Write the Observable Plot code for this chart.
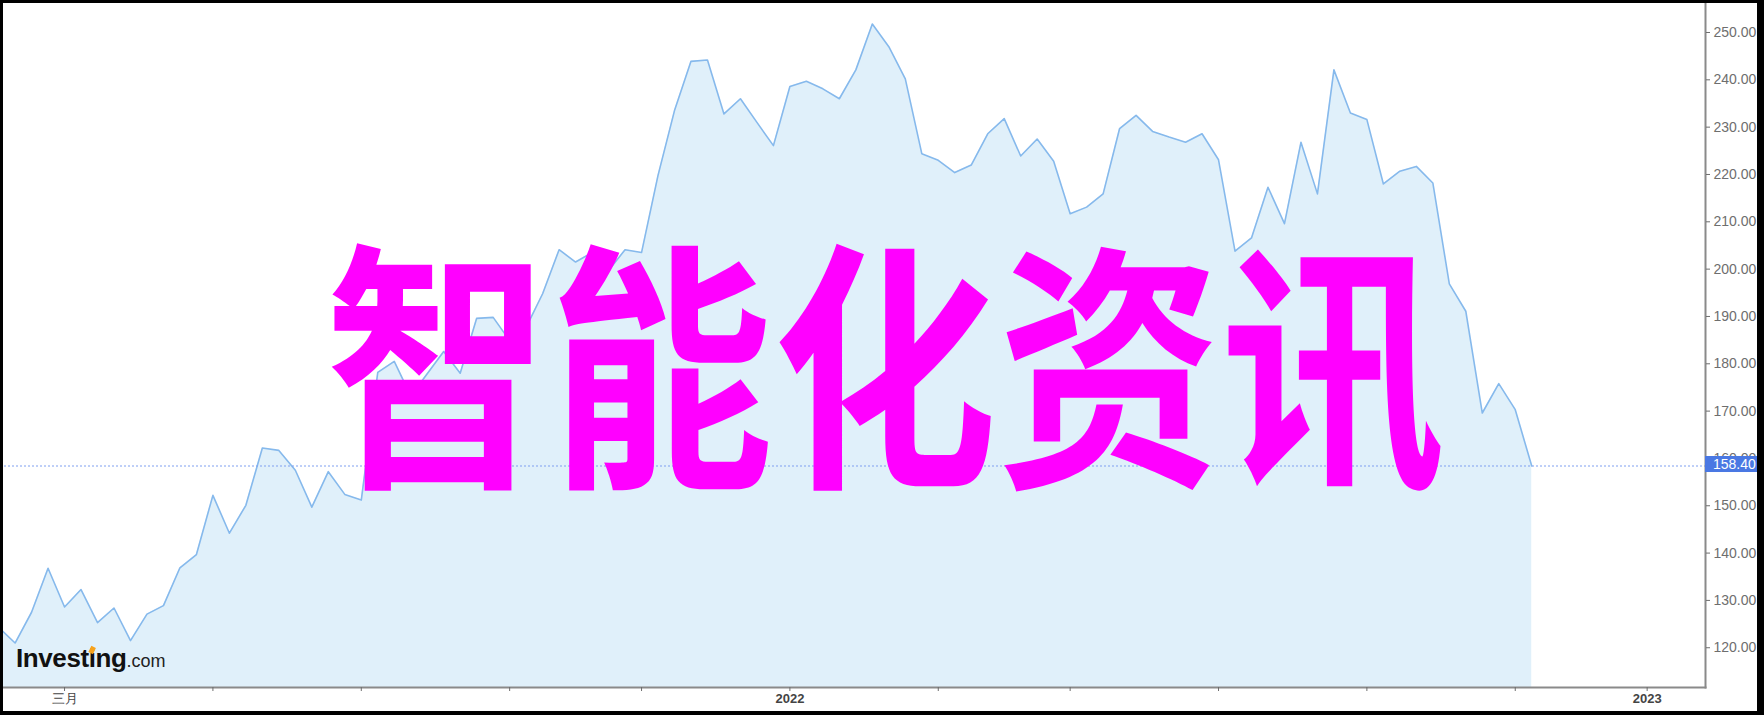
<!DOCTYPE html>
<html><head><meta charset="utf-8">
<script src="https://cdn.jsdelivr.net/npm/d3@7"></script>
<script src="https://cdn.jsdelivr.net/npm/@observablehq/plot@0.6"></script>
<style>
html,body{margin:0;padding:0;background:#fff;}
#wrap{position:relative;width:1764px;height:715px;overflow:hidden;background:#fff;}
#wrap svg{position:absolute;left:0;top:0;}
#border{position:absolute;left:0;top:0;width:1764px;height:715px;box-sizing:border-box;border-style:solid;border-color:#000;border-width:3px 7px 4px 3px;pointer-events:none;}
</style></head><body><div id="wrap"></div>
<script>
// ---- data (weekly closes, Mondays starting 2021-02-01) ----
const firstWeek = "2021-02-01";
const closes = [
  124.3, 121.0, 127.5, 136.8, 128.6, 132.3, 125.3, 128.4, 121.5, 127.1,
  128.9, 136.9, 139.7, 152.2, 144.2, 150.1, 162.2, 161.7, 157.5, 149.7,
  157.2, 152.4, 151.2, 178.2, 180.5, 173.2, 177.9, 182.6, 178.0, 189.6,
  189.8, 184.9, 187.7, 194.8, 204.1, 201.5, 203.5, 199.7, 204.1, 203.5,
  219.8, 233.5, 243.9, 244.2, 232.8, 236.0, 231.0, 226.1, 238.6, 239.7,
  238.1, 236.0, 242.1, 251.8, 247.0, 240.2, 224.4, 223.0, 220.4, 222.0,
  228.6, 231.8, 223.9, 227.5, 222.8, 211.7, 213.1, 215.9, 229.7, 232.5,
  229.1, 227.9, 226.8, 228.6, 223.1, 203.8, 206.6, 217.3, 209.6, 226.8,
  215.9, 242.1, 233.0, 231.6, 218.0, 220.7, 221.7, 218.2, 196.9, 191.1,
  169.6, 175.8, 170.3, 158.4
];
const lastPrice = 158.40;
const yTicks = [120, 130, 140, 150, 160, 170, 180, 190, 200, 210, 220, 230, 240, 250];
const xTickDates = ["2021-03-01","2021-05-03","2021-07-05","2021-09-06","2021-11-01","2022-01-03",
                    "2022-03-07","2022-05-02","2022-07-04","2022-09-05","2022-11-07","2023-01-02"];
const xTickLabels = ["三月","","","","","2022","","","","","","2023"];
const watermark = "智能化资讯";
const brandName = "Investing";
const brandSuffix = ".com";

// ---- build table ----
const start = new Date(firstWeek + "T00:00:00Z");
const rows = closes.map((v, i) => ({date: d3.utcWeek.offset(start, i), close: v}));
const ticks = xTickDates.map((d, i) => ({date: new Date(d + "T00:00:00Z"), label: xTickLabels[i]}));
const week = 7 * 864e5;
const xDomain = [new Date(+start + 0.115 * week), new Date(+start + 103.54 * week)];
const yDomain = [111.6, 256.76];

const chart = Plot.plot({
  width: 1764, height: 715,
  marginLeft: 0, marginRight: 59, marginTop: 0, marginBottom: 28,
  style: {fontFamily: "'Liberation Sans', Arial, sans-serif", fontSize: "14px", background: "transparent", overflow: "visible"},
  x: {type: "utc", domain: xDomain},
  y: {domain: yDomain},
  marks: [
    Plot.areaY(rows, {x: "date", y1: yDomain[0], y2: "close", fill: "#e0f0fa", clip: true}),
    Plot.lineY(rows, {x: "date", y: "close", stroke: "#86b9ec", strokeWidth: 1.6, clip: true}),
    Plot.ruleY([lastPrice], {stroke: "#7f9ff0", strokeWidth: 1, strokeDasharray: "2,2"}),
    Plot.frame({anchor: "right", stroke: "#8a8a8a", strokeWidth: 2}),
    Plot.frame({anchor: "bottom", stroke: "#8a8a8a", strokeWidth: 2}),
    Plot.axisY({anchor: "right", ticks: yTicks, tickFormat: d => d.toFixed(2), tickSize: 4, tickPadding: 4, color: "#6e6e6e", label: null, fontSize: 14}),
    Plot.axisX({ticks: ticks.map(d => d.date), tickFormat: () => "", tickSize: 4, color: "#6e6e6e", label: null}),
    Plot.text(ticks.filter(d => d.label && !/^\d+$/.test(d.label)), {x: "date", text: "label", frameAnchor: "bottom", dy: 15, fill: "#444", fontSize: 13}),
    Plot.text(ticks.filter(d => /^\d+$/.test(d.label)), {x: "date", text: "label", frameAnchor: "bottom", dy: 15, fill: "#444", fontSize: 13, fontWeight: "bold"})
  ]
});
const wrap = document.getElementById("wrap");
wrap.appendChild(chart);
const border = document.createElement("div");
border.id = "border";
wrap.appendChild(border);

const svg = d3.select(chart);
const yS = chart.scale("y");
const xR = chart.scale("x").range;
const py = yS.apply(lastPrice);

// last price label
const lab = svg.append("g");
lab.append("rect").attr("x", xR[1]).attr("y", py - 9.5).attr("width", 60).attr("height", 16).attr("fill", "#4a78e3");
lab.append("text").attr("x", xR[1] + 8).attr("y", py - 1.5).attr("dy", "0.36em").attr("text-anchor", "start")
  .attr("fill", "#fff").attr("font-family", "'Liberation Sans', Arial, sans-serif").attr("font-size", 14).text(lastPrice.toFixed(2));

// brand logo
const logo = svg.append("text").attr("x", 16).attr("y", 667).attr("text-anchor", "start")
  .attr("font-family", "'Liberation Sans', Arial, sans-serif");
logo.append("tspan").attr("font-weight", "bold").attr("font-size", 26).attr("letter-spacing", -0.4).attr("fill", "#111").text(brandName);
logo.append("tspan").attr("font-size", 18).attr("fill", "#222").text(brandSuffix);
try {
  const node = logo.node();
  const e = node.getExtentOfChar(6);
  const cx = e.x + e.width / 2, cy = 650;
  svg.append("rect").attr("x", cx - 2.5).attr("y", cy - 3.5).attr("width", 5).attr("height", 7)
    .attr("fill", "#f7a21b").attr("transform", `rotate(25 ${cx} ${cy})`);
} catch (err) {}

// watermark
svg.append("text")
  .attr("transform", "translate(885,353) scale(1,1.17)")
  .attr("text-anchor", "middle").attr("dominant-baseline", "central")
  .attr("font-family", "'Noto Sans CJK SC', sans-serif").attr("font-weight", 700).attr("font-size", 224)
  .attr("fill", "#ff00ff").text(watermark);
</script></body></html>
